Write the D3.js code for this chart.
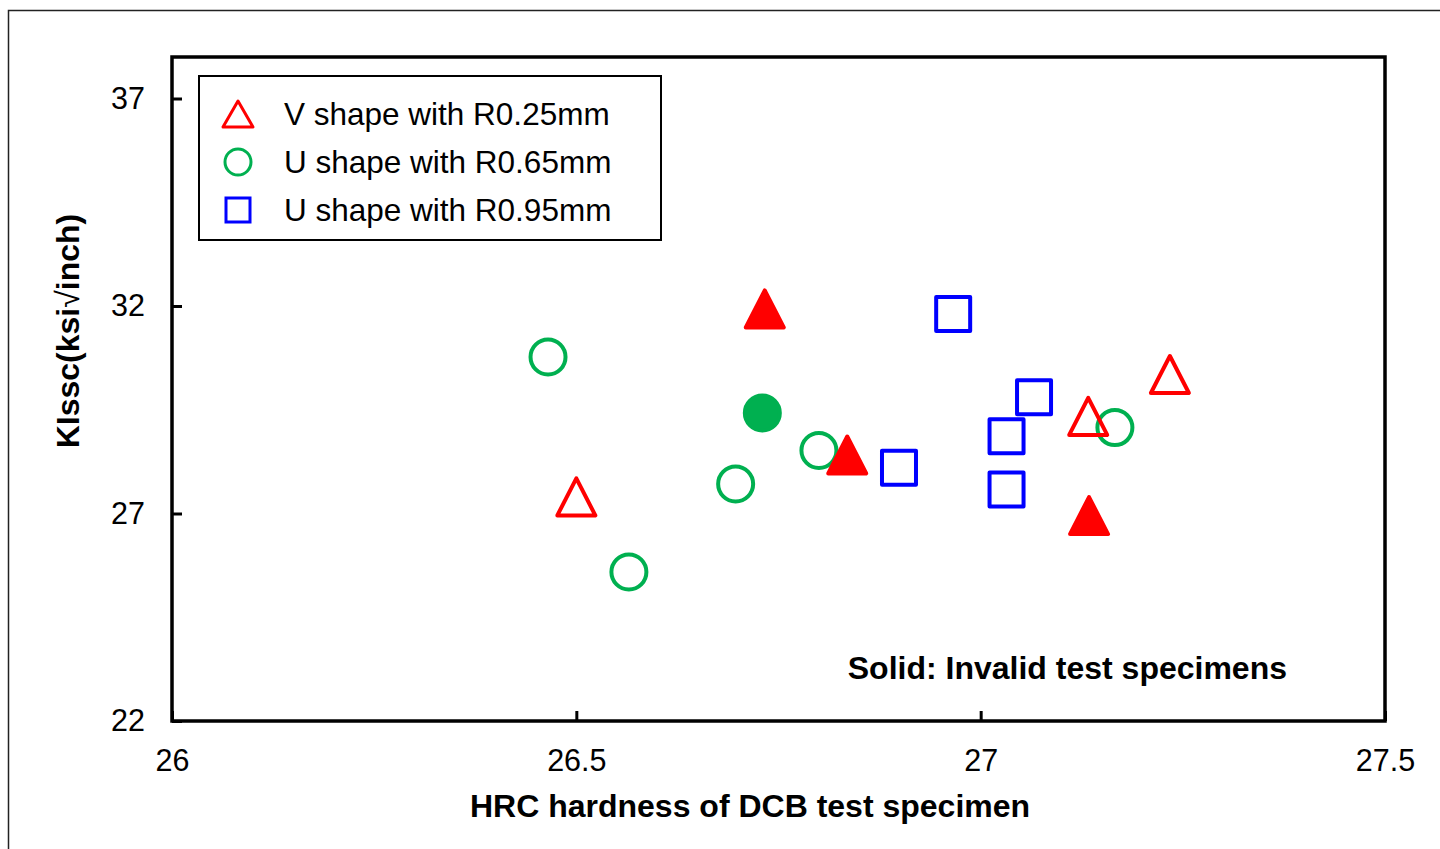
<!DOCTYPE html>
<html>
<head>
<meta charset="utf-8">
<script src="https://cdn.jsdelivr.net/npm/d3@7"></script>
<style>
  body { margin: 0; background: #fff; }
  svg { display: block; font-family: "Liberation Sans", Arial, sans-serif; }
</style>
</head>
<body>
<svg id="chart" width="1440" height="849"></svg>
<script>
// V shape R0.25mm (open = valid, solid = invalid)
var vOpenX = [26.5, 27.133, 27.234]
var vOpenY = [27.4, 29.34, 30.35]
var vSolidX = [26.733, 26.835, 27.134]
var vSolidY = [31.93, 28.41, 26.95]

// U shape R0.65mm
var u65OpenX = [26.465, 26.565, 26.697, 26.8, 27.166]
var u65OpenY = [30.77, 25.59, 27.71, 28.52, 29.07]
var u65SolidX = [26.73]
var u65SolidY = [29.42]

// U shape R0.95mm
var u95OpenX = [26.899, 26.966, 27.032, 27.032, 27.066]
var u95OpenY = [28.1, 31.81, 28.86, 27.58, 29.8]

var xTicks = [26, 26.5, 27, 27.5]
var yTicks = [22, 27, 32, 37]
var legendLabels = ["V shape with R0.25mm", "U shape with R0.65mm", "U shape with R0.95mm"]

var RED = "#ff0000", GREEN = "#00b050", BLUE = "#0000ff"

;(function() {
  var svg = d3.select("#chart")

  // outer frame of the figure
  svg.append("rect")
    .attr("x", 8.5).attr("y", 10.5)
    .attr("width", 1460).attr("height", 860)
    .attr("fill", "none").attr("stroke", "#222").attr("stroke-width", 1.5)

  var pl = 172, pr = 1385, pt = 57, pb = 721

  var x = d3.scaleLinear().domain([26, 27.5]).range([pl, pr])
  var y = d3.scaleLinear().domain([22, 38]).range([pb, pt])

  // axes, ticks pointing inward
  var xAxis = svg.append("g")
    .attr("transform", "translate(0," + pb + ")")
    .call(d3.axisBottom(x).tickValues(xTicks).tickSizeInner(-10).tickSizeOuter(0)
      .tickFormat(function(d) { return d3.format("")(d) }))
  xAxis.select(".domain").remove()
  xAxis.selectAll("line").attr("stroke", "#000").attr("stroke-width", 3)
  xAxis.selectAll("text").attr("font-size", 30.5).attr("fill", "#000")
    .attr("font-family", "Liberation Sans, Arial, sans-serif").attr("y", 39).attr("dy", "0.35em")

  var yAxis = svg.append("g")
    .attr("transform", "translate(" + pl + ",0)")
    .call(d3.axisLeft(y).tickValues(yTicks).tickSizeInner(-10).tickSizeOuter(0))
  yAxis.select(".domain").remove()
  yAxis.selectAll("line").attr("stroke", "#000").attr("stroke-width", 3)
  yAxis.selectAll("text").attr("font-size", 30.5).attr("fill", "#000")
    .attr("font-family", "Liberation Sans, Arial, sans-serif").attr("x", -27)

  // plot border
  svg.append("rect")
    .attr("x", pl).attr("y", pt)
    .attr("width", pr - pl).attr("height", pb - pt)
    .attr("fill", "none").attr("stroke", "#000").attr("stroke-width", 3.5)

  // axis titles
  svg.append("text")
    .attr("x", 750).attr("y", 817)
    .attr("text-anchor", "middle")
    .attr("font-size", 32).attr("font-weight", "bold")
    .text("HRC hardness of DCB test specimen")

  var yTitle = svg.append("text")
    .attr("transform", "translate(79,331) rotate(-90)")
    .attr("text-anchor", "middle")
    .attr("font-size", 32).attr("font-weight", "bold")
  yTitle.append("tspan").text("KIssc(ksi")
  yTitle.append("tspan").attr("font-weight", "normal").text("\u221a")
  yTitle.append("tspan").text("inch)")

  svg.append("text")
    .attr("x", 1287).attr("y", 679)
    .attr("text-anchor", "end")
    .attr("font-size", 32).attr("font-weight", "bold")
    .text("Solid: Invalid test specimens")

  // marker shapes
  function triangle(w, h) {
    return "M0," + (-h / 2) + "L" + (w / 2) + "," + (h / 2) + "L" + (-w / 2) + "," + (h / 2) + "Z"
  }
  function square(s) {
    return "M" + (-s / 2) + "," + (-s / 2) + "h" + s + "v" + s + "h" + (-s) + "Z"
  }

  function pairs(xs, ys) {
    return xs.map(function(d, i) { return { x: d, y: ys[i] } })
  }

  var marks = svg.append("g")

  function drawPath(data, path, color, filled) {
    marks.selectAll(null).data(data).enter().append("path")
      .attr("d", path)
      .attr("transform", function(d) { return "translate(" + x(d.x) + "," + y(d.y) + ")" })
      .attr("fill", filled ? color : "none")
      .attr("stroke", color).attr("stroke-width", 4)
      .attr("stroke-linejoin", "round")
  }
  function drawCircle(data, color, filled) {
    marks.selectAll(null).data(data).enter().append("circle")
      .attr("cx", function(d) { return x(d.x) })
      .attr("cy", function(d) { return y(d.y) })
      .attr("r", 17.5)
      .attr("fill", filled ? color : "none")
      .attr("stroke", color).attr("stroke-width", 4)
  }

  drawPath(pairs(u95OpenX, u95OpenY), square(34), BLUE, false)
  drawCircle(pairs(u65OpenX, u65OpenY), GREEN, false)
  drawCircle(pairs(u65SolidX, u65SolidY), GREEN, true)
  drawPath(pairs(vOpenX, vOpenY), triangle(38, 37), RED, false)
  drawPath(pairs(vSolidX, vSolidY), triangle(38, 37), RED, true)

  // legend
  var legend = svg.append("g")
  legend.append("rect")
    .attr("x", 199).attr("y", 76)
    .attr("width", 462).attr("height", 164)
    .attr("fill", "#fff").attr("stroke", "#000").attr("stroke-width", 2)

  var rowY = [114, 162, 210]
  legend.append("path").attr("d", triangle(30, 26))
    .attr("transform", "translate(238," + rowY[0] + ")")
    .attr("fill", "none").attr("stroke", RED).attr("stroke-width", 3).attr("stroke-linejoin", "round")
  legend.append("circle").attr("cx", 238).attr("cy", rowY[1]).attr("r", 13)
    .attr("fill", "none").attr("stroke", GREEN).attr("stroke-width", 3)
  legend.append("path").attr("d", square(24))
    .attr("transform", "translate(238," + rowY[2] + ")")
    .attr("fill", "none").attr("stroke", BLUE).attr("stroke-width", 3)

  legend.selectAll(null).data(legendLabels).enter().append("text")
    .attr("x", 284)
    .attr("y", function(d, i) { return rowY[i] + 11 })
    .attr("font-size", 31.5)
    .text(function(d) { return d })
})()
</script>
</body>
</html>
